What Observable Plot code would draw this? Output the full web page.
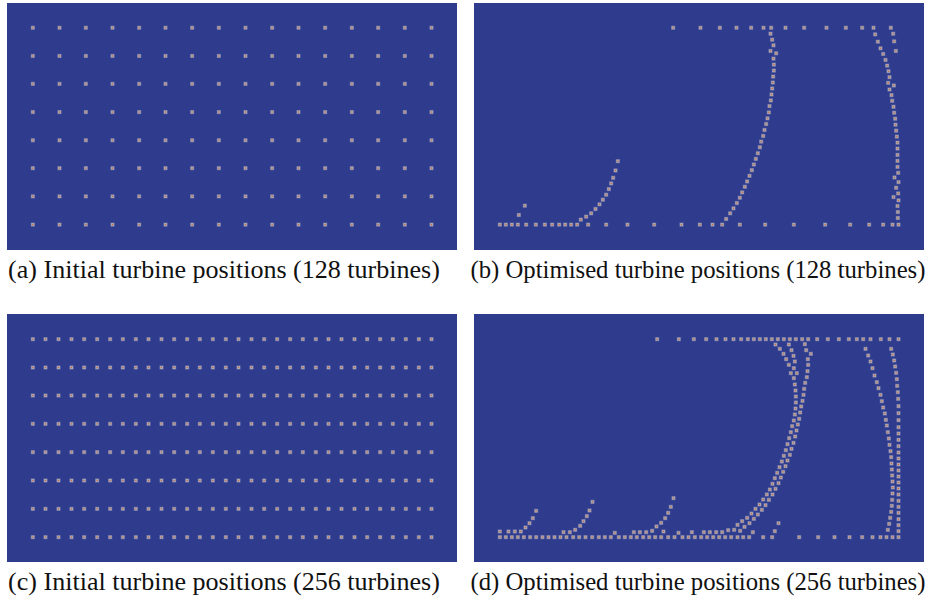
<!DOCTYPE html>
<html><head><meta charset="utf-8">
<script src="https://cdn.jsdelivr.net/npm/d3@7"></script>
<script src="https://cdn.jsdelivr.net/npm/@observablehq/plot@0.6"></script>
<style>
html,body{margin:0;padding:0;background:#fff;}
body{width:930px;height:599px;overflow:hidden;position:relative;font-family:"Liberation Serif","DejaVu Serif",serif;}
.panel{position:absolute;line-height:0;}
.cap{position:absolute;white-space:nowrap;color:#111;transform:translate(-50%,-50%);}
</style></head><body>
<script>
// ---- Data (site coordinates, x to the right, y measured downward from the top boundary; domain 1350 x 744) ----
const domainX = [0, 1350];
const domainY = [0, 744];

// (a) initial layout, 128 turbines: 16 columns x 8 rows
const aCols = [76,156,235,315,395,474,554,634,714,794,873,953,1033,1112,1192,1272];
const aRows = [73,158,242,327,412,496,581,666];

// (c) initial layout, 256 turbines: 32 columns x 8 rows
const cCols = [76,114,153,192,230,269,308,346,385,423,462,500,539,577,616,655,693,732,770,809,848,886,925,963,1002,1041,1079,1118,1156,1195,1234,1272];
const cRows = [74,159,243,328,413,498,583,668];

// (b) optimised layout, 128 turbines
const bTopY = 73;
const bTopX = [596,678,736,786,830,867,890,933,989,1056,1114,1163,1197,1249];
const bBottomY = 666;
const bBottomX = [76,94,112,130,155,184,211,233,254,272,290,308,341,395,459,539,621,676,714,743,796,872,958,1052,1127,1184,1226,1254,1272];
const bLeftBranch = [[133,637],[151,609]];
const bLeftCurve = [[319,651],[335,642],[350,632],[363,619],[375,605],[385,591],[395,576],[403,559],[410,542],[416,525],[423,503],[430,475]];
const bMidCurve = [[888,91],[893,109],[897,126],[888,143],[905,150],[897,166],[898,184],[898,202],[896,220],[895,238],[893,256],[891,274],[889,292],[885,309],[883,328],[879,346],[875,363],[870,381],[866,399],[860,416],[856,433],[850,451],[844,468],[838,485],[832,502],[825,519],[818,536],[811,552],[803,569],[796,585],[787,601],[777,617],[767,632],[755,649]];
const bRightCurve = [[1202,93],[1210,115],[1218,135],[1226,152],[1233,170],[1238,187],[1242,204],[1245,222],[1241,239],[1245,259],[1251,276],[1253,293],[1257,311],[1259,329],[1262,347],[1263,365],[1265,383],[1267,401],[1269,419],[1269,437],[1269,456],[1269,474],[1269,492],[1271,510],[1272,538],[1271,572],[1272,593],[1269,610],[1270,628],[1270,646]];
const bRightExtra = [[1256,91],[1259,114],[1264,143],[1258,247],[1260,524],[1265,555],[1257,583]];

// (d) optimised layout, 256 turbines
const dTopY = 74;
const dTopX = [548,613,658,695,726,753,777,800,820,838,856,874,892,910,928,946,964,983,1001,1028,1060,1093,1123,1147,1166,1188,1219,1245,1272];
const dBottomY = 668;
const dBottomX = [76,94,112,130,148,167,185,204,222,240,258,276,296,314,333,353,373,391,409,433,451,469,487,506,524,542,560,581,600,624,642,661,680,698,716,734,752,770,789,806,824,866,893,974,1031,1080,1125,1163,1194,1218,1236,1254,1272];
const dSecondRow = [[76,651],[102,651],[121,651],[139,651],[267,653],[286,653],[421,655],[478,653],[496,653],[515,653],[533,649],[567,651],[612,655],[652,653],[688,653],[706,653],[725,653],[743,653],[761,647],[779,646],[797,649],[835,653],[901,650]];
const dCluster1 = [[153,639],[165,626],[175,611],[185,589]];
const dCluster2 = [[302,646],[317,634],[327,620],[337,605],[345,588],[354,562]];
const dCluster3 = [[546,636],[560,625],[572,611],[581,595],[589,577],[597,551]];
const dStrandA = [[958,191],[961,210],[963,228],[964,246],[964,264],[963,282],[961,300],[958,318],[953,335],[949,353],[944,371],[939,389],[934,407],[928,424],[922,441],[915,458],[908,475],[901,491],[894,508],[886,525],[877,540],[866,555],[855,570],[843,583],[831,597],[818,610],[803,620],[789,631]];
const dStrandA1 = [[903,90],[916,103],[927,118],[935,134],[943,151],[949,176]];
const dStrandA2 = [[943,90],[951,107],[957,124],[961,141],[958,161],[967,176]];
const dStrandB = [[991,89],[995,107],[1009,118],[1000,134],[1001,151],[999,170],[997,188],[992,205],[989,223],[987,241],[984,259],[980,276],[977,294],[974,313],[970,330],[966,348],[962,366],[957,385],[951,403],[946,421],[939,438],[933,455],[926,472],[919,489],[912,506],[903,523],[894,540],[883,556],[873,572],[862,586],[850,600],[838,613],[825,626],[810,637]];
const dIsolated = [[912,626]];
const dRightInner = [[1173,103],[1181,123],[1188,141],[1194,161],[1200,183],[1207,203],[1212,221],[1218,241],[1222,260],[1226,279],[1231,297],[1234,316],[1237,333],[1240,353],[1243,372],[1245,391],[1248,410],[1250,428],[1251,447],[1252,465],[1253,483],[1254,501],[1255,519],[1254,537],[1253,556],[1252,574],[1250,592],[1247,610],[1244,628],[1240,646]];
const dRightOuter = [[1250,103],[1255,120],[1259,138],[1262,156],[1265,175],[1267,194],[1268,214],[1270,233],[1271,253],[1272,275],[1272,296],[1272,317],[1272,338],[1272,357],[1272,376],[1272,395],[1272,414],[1272,432],[1272,450],[1272,468],[1272,486],[1272,504],[1272,522],[1272,540],[1272,559],[1272,577],[1272,595],[1272,614],[1272,632],[1272,650]];

const captions = [
  "(a) Initial turbine positions (128 turbines)",
  "(b) Optimised turbine positions (128 turbines)",
  "(c) Initial turbine positions (256 turbines)",
  "(d) Optimised turbine positions (256 turbines)"
];

// ---- Build tables ----
const grid = (cols, rows) => rows.flatMap(y => cols.map(x => ({x, y})));
const row = (xs, y) => xs.map(x => ({x, y}));
const pts = arr => arr.map(([x, y]) => ({x, y}));

const dataA = grid(aCols, aRows);
const dataC = grid(cCols, cRows);
const dataB = [...row(bTopX, bTopY), ...row(bBottomX, bBottomY), ...pts(bLeftBranch), ...pts(bLeftCurve),
  ...pts(bMidCurve), ...pts(bRightCurve), ...pts(bRightExtra)];
const dataD = [...row(dTopX, dTopY), ...row(dBottomX, dBottomY), ...pts(dSecondRow), ...pts(dCluster1),
  ...pts(dCluster2), ...pts(dCluster3), ...pts(dStrandA), ...pts(dStrandA1), ...pts(dStrandA2),
  ...pts(dStrandB), ...pts(dIsolated), ...pts(dRightInner), ...pts(dRightOuter)];

function panel(data, h) {
  return Plot.plot({
    width: 450, height: h, margin: 0,
    x: {domain: domainX, range: [0, 450], axis: null},
    y: {domain: domainY, range: [0, h], axis: null},
    style: {background: "#2f3b8c", display: "block"},
    marks: [
      Plot.dot(data, {x: "x", y: "y", symbol: "square", r: 2.4, fill: "#5f67a6"}),
      Plot.dot(data, {x: "x", y: "y", symbol: "square", r: 1.8, fill: "#aaa3ab"}),
      Plot.dot(data, {x: "x", y: "y", symbol: "square", r: 0.6, fill: "#d2643a"})
    ]
  });
}

const layout = [
  {data: dataA, left: 7, top: 3, h: 247, cx: 224, cy: 270},
  {data: dataB, left: 474, top: 3, h: 247, cx: 698, cy: 270},
  {data: dataC, left: 7, top: 314, h: 248, cx: 224, cy: 582},
  {data: dataD, left: 474, top: 314, h: 248, cx: 698, cy: 582}
];
const targetW = [432, 455, 432, 455];

layout.forEach((p, i) => {
  const div = document.createElement("div");
  div.className = "panel";
  div.style.left = p.left + "px";
  div.style.top = p.top + "px";
  div.appendChild(panel(p.data, p.h));
  document.body.appendChild(div);

  const cap = document.createElement("div");
  cap.className = "cap";
  cap.textContent = captions[i];
  cap.style.fontSize = "20px";
  document.body.appendChild(cap);
  const w = cap.getBoundingClientRect().width;
  cap.style.fontSize = (20 * targetW[i] / w).toFixed(2) + "px";
  cap.style.left = p.cx + "px";
  cap.style.top = p.cy + "px";
});
</script>
</body></html>
